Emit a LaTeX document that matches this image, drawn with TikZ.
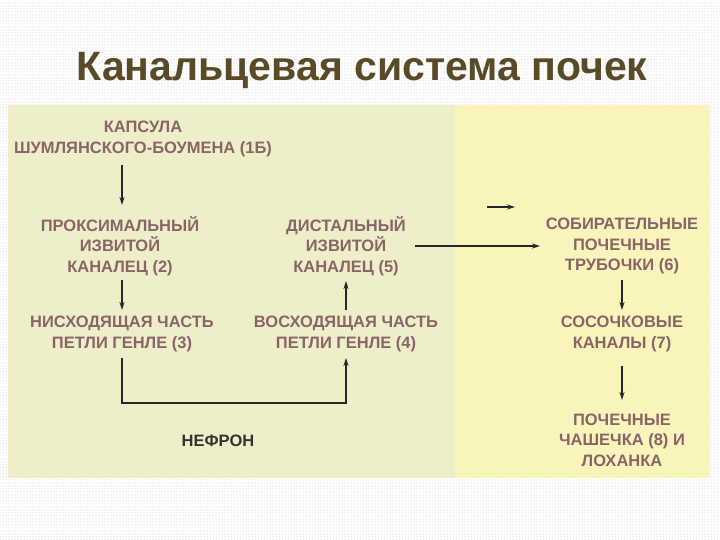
\documentclass[tikz,border=0pt]{standalone}
\usepackage{fontspec}
\setmainfont{Liberation Sans}
\usetikzlibrary{patterns,arrows.meta}
\definecolor{txt}{HTML}{8A6468}
\definecolor{ttl}{HTML}{5B4A28}
\definecolor{lp}{HTML}{EEEFC8}
\definecolor{rp}{HTML}{F8F4BA}
\begin{document}
\begin{tikzpicture}[x=1pt,y=-1pt,
  lbl/.style={font=\bfseries\fontsize{16.5}{20.5}\selectfont,text=txt,align=center,inner sep=0pt},
  arr/.style={-{Stealth[length=8pt,width=5pt]},line width=1.4pt,black!85}]
\useasboundingbox (0,0) rectangle (720,540);
\fill[white] (0,0) rectangle (720,540);
\fill[pattern=dots,pattern color=black!25] (0,0) rectangle (720,540);
\node[font=\bfseries\fontsize{41}{46}\selectfont,text=ttl,anchor=west] (title) at (73,70) {Канальцевая система почек};
\fill[lp] (8,105) rectangle (455,478);
\fill[rp] (455,105) rectangle (710,478);
\node[lbl] (n1) at (143,139) {КАПСУЛА\\ШУМЛЯНСКОГО-БОУМЕНА (1Б)};
\node[lbl] (n2) at (120,246) {ПРОКСИМАЛЬНЫЙ\\ИЗВИТОЙ\\КАНАЛЕЦ (2)};
\node[lbl] (n3) at (122,334) {НИСХОДЯЩАЯ ЧАСТЬ\\ПЕТЛИ ГЕНЛЕ (3)};
\node[lbl] (n5) at (346,246) {ДИСТАЛЬНЫЙ\\ИЗВИТОЙ\\КАНАЛЕЦ (5)};
\node[lbl] (n4) at (346,334) {ВОСХОДЯЩАЯ ЧАСТЬ\\ПЕТЛИ ГЕНЛЕ (4)};
\node[lbl] (n6) at (622,246) {СОБИРАТЕЛЬНЫЕ\\ПОЧЕЧНЫЕ\\ТРУБОЧКИ (6)};
\node[lbl] (n7) at (622,334) {СОСОЧКОВЫЕ\\КАНАЛЫ (7)};
\node[lbl] (n8) at (622,440) {ПОЧЕЧНЫЕ\\ЧАШЕЧКА (8) И\\ЛОХАНКА};
\node[lbl,text=black!80] (nef) at (218,441) {НЕФРОН};
\draw[arr] (122,165) -- (122,205);
\draw[arr] (122,280) -- (122,310);
\draw[arr] (622,280) -- (622,310);
\draw[arr] (622,366) -- (622,400);
\draw[arr] (415,246) -- (540,246);
\draw[arr,line width=1.1pt] (487,207) -- (515,207);
\draw[arr] (122,358) -- (122,403) -- (346,403) -- (346,358);
\draw[arr] (346,310) -- (346,281);
\end{tikzpicture}
\end{document}
